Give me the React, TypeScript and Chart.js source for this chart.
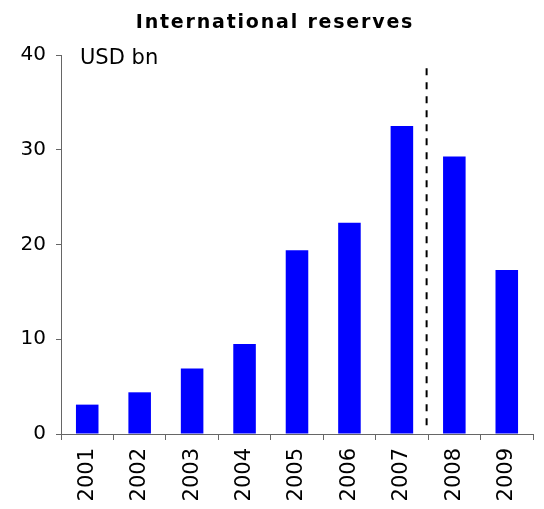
import React, { useEffect, useRef } from "react";
import { Chart, registerables } from "chart.js";

Chart.register(...registerables);

const categories = ["2001", "2002", "2003", "2004", "2005", "2006", "2007", "2008", "2009"];
const reserves = [3.1, 4.4, 6.9, 9.5, 19.4, 22.3, 32.5, 29.3, 17.3];
const yTicks = [0, 10, 20, 30, 40];
const titleText = "International reserves";
const unitText = "USD bn";
const dividerAfterIndex = 6;
const dividerRange = [0.9, 38.6];

const overlayPlugin = {
  id: "overlay",
  afterDatasetsDraw(chart: any) {
    const { ctx, scales } = chart;
    const x = scales.x;
    const y = scales.y;
    const xPos = (x.getPixelForValue(dividerAfterIndex) + x.getPixelForValue(dividerAfterIndex + 1)) / 2 - 1.5;
    ctx.save();
    ctx.strokeStyle = "#000";
    ctx.lineWidth = 2;
    ctx.setLineDash([7, 7]);
    ctx.beginPath();
    ctx.moveTo(xPos, y.getPixelForValue(dividerRange[1]));
    ctx.lineTo(xPos, y.getPixelForValue(dividerRange[0]));
    ctx.stroke();
    ctx.restore();
  },
  afterDraw(chart: any) {
    const { ctx } = chart;
    ctx.save();
    ctx.fillStyle = "#000";
    ctx.font = "bold 19px 'DejaVu Sans'";
    (ctx as any).letterSpacing = "1.8px";
    ctx.textAlign = "center";
    ctx.textBaseline = "alphabetic";
    ctx.fillText(titleText, 275, 28);
    (ctx as any).letterSpacing = "0px";
    ctx.font = "21px 'DejaVu Sans'";
    ctx.textAlign = "left";
    ctx.fillText(unitText, 80, 64);
    ctx.restore();
  },
};

export default function App() {
  const ref = useRef<HTMLCanvasElement | null>(null);
  useEffect(() => {
    if (!ref.current) return;
    const chart = new Chart(ref.current, {
      type: "bar",
      data: {
        labels: categories,
        datasets: [
          {
            data: reserves,
            backgroundColor: "#0000FF",
            borderWidth: 0,
            categoryPercentage: 1,
            barPercentage: 0.43,
          },
        ],
      },
      options: {
        animation: false,
        responsive: false,
        maintainAspectRatio: false,
        layout: { padding: { top: 55, right: 11, left: 0, bottom: 0 } },
        plugins: {
          legend: { display: false },
          title: { display: false },
          tooltip: { enabled: false },
        },
        scales: {
          x: {
            offset: true,
            grid: {
              offset: true,
              drawOnChartArea: false,
              drawTicks: true,
              tickLength: 6,
              color: "#666",
            },
            border: { display: true, color: "#666", width: 1 },
            ticks: {
              maxRotation: 90,
              minRotation: 90,
              padding: 8,
              color: "#000",
              font: { family: "DejaVu Sans", size: 21 },
            },
            afterFit(scale: any) {
              scale.height = 75;
            },
          },
          y: {
            min: 0,
            max: 40,
            afterBuildTicks(scale: any) {
              scale.ticks = yTicks.map((v) => ({ value: v }));
            },
            grid: {
              drawOnChartArea: false,
              drawTicks: true,
              tickLength: 5,
              color: "#666",
            },
            border: { display: true, color: "#666", width: 1 },
            ticks: {
              padding: 10,
              color: "#000",
              font: { family: "DejaVu Sans", size: 20 },
            },
            afterFit(scale: any) {
              scale.width = 61;
            },
          },
        },
      },
      plugins: [overlayPlugin],
    });
    return () => chart.destroy();
  }, []);
  return (
    <div style={{ position: "fixed", left: 0, top: 0, width: 544, height: 509 }}>
      <canvas ref={ref} width={544} height={509} style={{ width: 544, height: 509 }} />
    </div>
  );
}
